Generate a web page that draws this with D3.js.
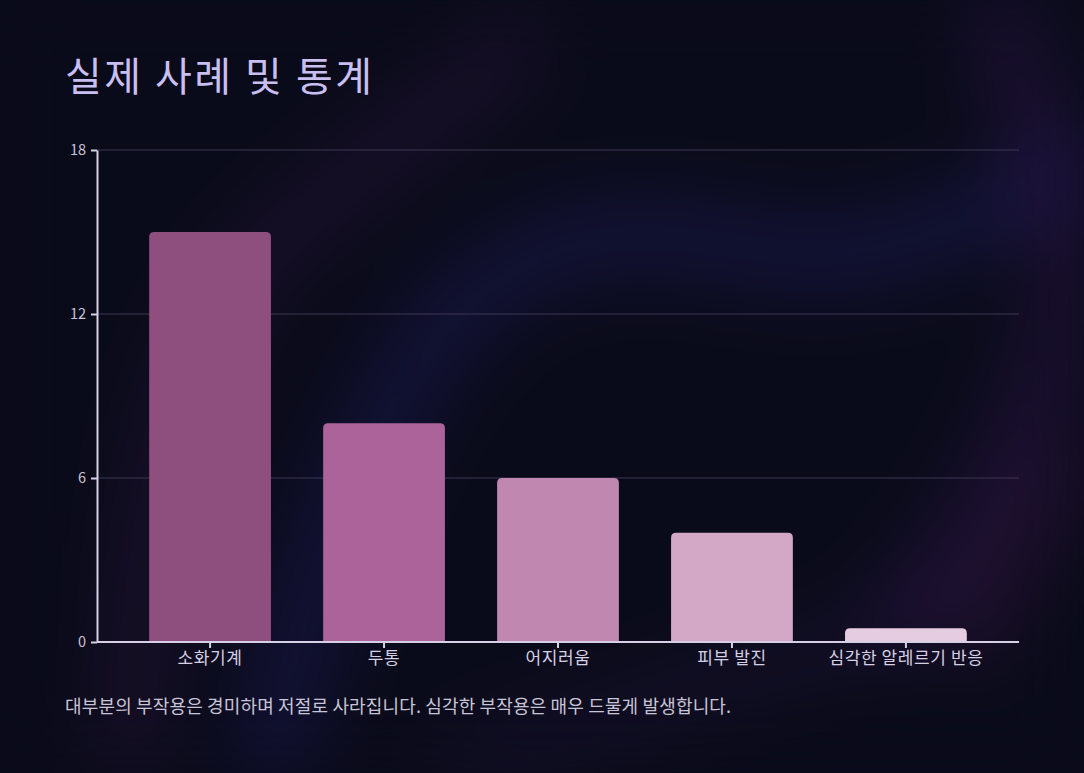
<!DOCTYPE html>
<html>
<head>
<meta charset="utf-8">
<script src="https://cdn.jsdelivr.net/npm/d3@7"></script>
<style>
  html, body { margin: 0; padding: 0; background: #0a0b1a; overflow: hidden; }
  #wrap { position: relative; width: 1084px; height: 773px; overflow: hidden; }
  #bg { position: absolute; left: 0; top: 0; filter: blur(38px); }
  #chart { position: absolute; left: 0; top: 0; }
  svg { display: block; font-family: "Noto Sans CJK KR", "Noto Sans", sans-serif; }
</style>
</head>
<body>
<div id="wrap">
  <svg id="bg"></svg>
  <svg id="chart"></svg>
</div>
<script>
// 실제 사례 및 통계 - 부작용 막대 차트

const width = 1084;
const height = 773;

const margin = { top: 150, right: 65, bottom: 131, left: 97 };

// 데이터
const categories = ["소화기계", "두통", "어지러움", "피부 발진", "심각한 알레르기 반응"];
const values = [15, 8, 6, 4, 0.5];
const yTicks = [0, 6, 12, 18];
const barColors = ["#8e4e7e", "#ab6399", "#c087b0", "#d2a8c6", "#e6cce0"];

// 배경 (흐릿한 빛 줄기)
const bg = d3.select("#bg").attr("width", width).attr("height", height);
bg.append("rect").attr("width", width).attr("height", height).attr("fill", "#0a0b1a");

const glow = bg.append("g").attr("fill", "none").attr("stroke-linecap", "round");

glow.append("path")
  .attr("d", "M130,760 C150,520 170,330 290,230 S430,120 520,40")
  .attr("stroke", "#3a1a48").attr("stroke-width", 40).attr("opacity", 0.5);
glow.append("path")
  .attr("d", "M270,770 C300,600 380,380 470,300 S650,230 760,250 S980,230 1090,150")
  .attr("stroke", "#22206a").attr("stroke-width", 50).attr("opacity", 0.55);
glow.append("path")
  .attr("d", "M990,-20 C1030,120 1080,220 1060,320 S990,520 900,620")
  .attr("stroke", "#3a1a58").attr("stroke-width", 50).attr("opacity", 0.5);
glow.append("path")
  .attr("d", "M980,640 C1020,560 1060,480 1100,430")
  .attr("stroke", "#45184a").attr("stroke-width", 40).attr("opacity", 0.45);
glow.append("path")
  .attr("d", "M420,780 C600,720 780,660 960,610")
  .attr("stroke", "#2a1642").attr("stroke-width", 40).attr("opacity", 0.45);

const svg = d3.select("#chart").attr("width", width).attr("height", height);

// 제목
svg.append("text")
  .attr("x", 65).attr("y", 91)
  .attr("fill", "#c8bff0")
  .attr("font-size", 40)
  .attr("letter-spacing", 2.5)
  .text("실제 사례 및 통계");

// 척도
const x = d3.scaleBand()
  .domain(categories)
  .range([margin.left, width - margin.right])
  .padding(0.3);

const y = d3.scaleLinear()
  .domain([0, 18])
  .range([height - margin.bottom, margin.top]);

// 격자선
svg.append("g")
  .selectAll("line")
  .data(yTicks.filter(d => d > 0))
  .join("line")
  .attr("x1", margin.left).attr("x2", width - margin.right)
  .attr("y1", d => y(d)).attr("y2", d => y(d))
  .attr("stroke", "#3b3750").attr("stroke-width", 1.2);

// 막대 (위쪽 모서리만 둥글게)
const r = 5;
svg.append("g")
  .selectAll("path")
  .data(categories)
  .join("path")
  .attr("fill", (d, i) => barColors[i])
  .attr("d", (d, i) => {
    const x0 = x(d), w = x.bandwidth();
    const y0 = y(values[i]), y1 = y(0);
    const rr = Math.min(r, (y1 - y0));
    return `M${x0},${y1} L${x0},${y0 + rr} Q${x0},${y0} ${x0 + rr},${y0}
      L${x0 + w - rr},${y0} Q${x0 + w},${y0} ${x0 + w},${y0 + rr} L${x0 + w},${y1} Z`;
  });

// 축 색
const axisColor = "#d6cfe6";

// x축
const gx = svg.append("g")
  .attr("transform", `translate(0,${y(0)})`)
  .call(d3.axisBottom(x).tickSize(6).tickSizeOuter(0).tickPadding(4));
gx.select(".domain").attr("stroke", axisColor).attr("stroke-width", 2)
  .attr("d", `M${margin.left},0H${width - margin.right}`);
gx.selectAll(".tick line").attr("stroke", axisColor).attr("stroke-width", 2);
gx.selectAll("text")
  .attr("fill", "#d6d0e4")
  .attr("font-size", 17)
  .attr("letter-spacing", 0.6)
  .attr("font-family", "'Noto Sans CJK KR', sans-serif");

// y축
const gy = svg.append("g")
  .attr("transform", `translate(${margin.left},0)`)
  .call(d3.axisLeft(y).tickValues(yTicks).tickSize(6).tickSizeOuter(0).tickPadding(5));
gy.select(".domain").attr("stroke", axisColor).attr("stroke-width", 2);
gy.selectAll(".tick line").attr("stroke", axisColor).attr("stroke-width", 2);
gy.selectAll("text")
  .attr("fill", "#c9c3d8")
  .attr("font-size", 14.5)
  .attr("font-family", "'Noto Sans CJK KR', sans-serif");

// 주석
svg.append("text")
  .attr("x", 65).attr("y", 713)
  .attr("fill", "#c9c5d8")
  .attr("font-size", 18)
  .attr("letter-spacing", 0.15)
  .text("대부분의 부작용은 경미하며 저절로 사라집니다. 심각한 부작용은 매우 드물게 발생합니다.");
</script>
</body>
</html>
